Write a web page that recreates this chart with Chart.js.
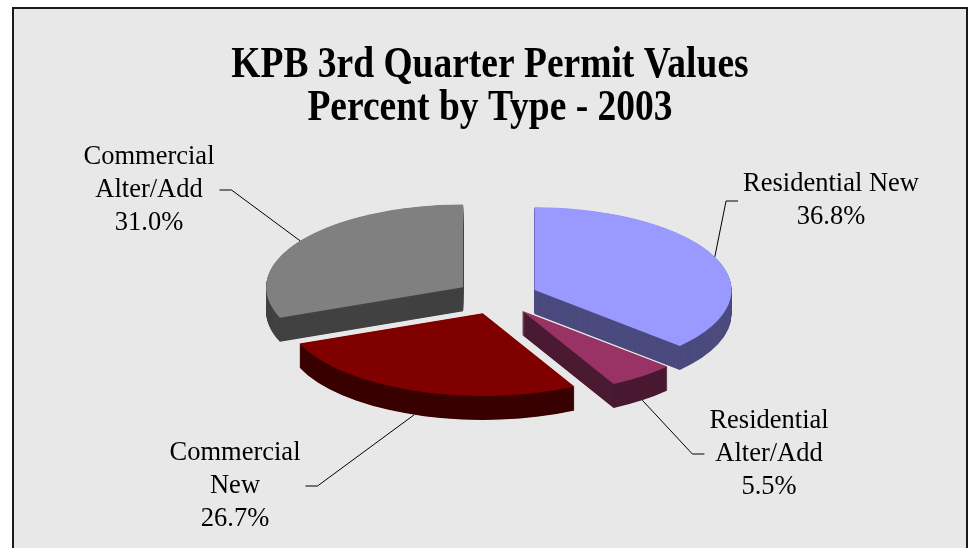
<!DOCTYPE html>
<html><head><meta charset="utf-8">
<script src="https://cdn.jsdelivr.net/npm/chart.js@4.4.1/dist/chart.umd.min.js"></script>
<style>
html,body{margin:0;padding:0;background:#fff;width:968px;height:548px;overflow:hidden;}
#frame{position:absolute;left:12px;top:7px;width:956px;height:600px;box-sizing:border-box;border:2px solid #1a1a1a;background:#e8e8e8;}
#c{position:absolute;left:0;top:0;}
</style></head><body>
<div id="frame"></div>
<canvas id="c" width="968" height="548"></canvas>
<script>
// ---- data ----
const titleLines = ['KPB 3rd Quarter Permit Values', 'Percent by Type - 2003'];
const categories = ['Residential New', 'Residential Alter/Add', 'Commercial New', 'Commercial Alter/Add'];
const categoryLines = [['Residential New'], ['Residential', 'Alter/Add'], ['Commercial', 'New'], ['Commercial', 'Alter/Add']];
const percentValues = [36.8, 5.5, 26.7, 31.0];

// ---- styles / layout ----
const topColors = ['#9999ff', '#993366', '#800000', '#808080'];
const sideColors = ['#4b4b7f', '#4a1a32', '#3a0000', '#424242'];
const labelCenters = [[831, 201], [769, 454], [235, 486], [149, 190]];
const TILT = 0.42, EXPLODE = 41, DEPTH = 24, LINE_H = 33;
const LABEL_FONT = '26.5px "Liberation Serif", "Times New Roman", serif';

function sliceGeom(el) {
  const p = el.getProps(['x', 'y', 'startAngle', 'endAngle', 'outerRadius']);
  const h = (p.startAngle + p.endAngle) / 2;
  return { p, h, ex: Math.cos(h) * EXPLODE, ey: Math.sin(h) * EXPLODE };
}

const pie3d = {
  id: 'pie3d',
  beforeDatasetsDraw(chart) {
    const ctx = chart.ctx;
    const meta = chart.getDatasetMeta(0);
    const items = meta.data.map((el, i) => Object.assign({ el, i }, sliceGeom(el)));
    items.sort((a, b) => a.ey - b.ey);
    for (const it of items) {
      const p = it.p;
      const setT = (t) => {
        ctx.translate(p.x, p.y + t);
        ctx.scale(1, TILT);
        ctx.translate(-p.x + it.ex, -p.y + it.ey);
      };
      for (let t = DEPTH; t >= 0.5; t -= 0.5) {
        ctx.save();
        setT(t);
        ctx.beginPath();
        ctx.moveTo(p.x, p.y);
        ctx.arc(p.x, p.y, p.outerRadius, p.startAngle, p.endAngle);
        ctx.closePath();
        ctx.fillStyle = sideColors[it.i];
        ctx.fill();
        ctx.restore();
      }
      ctx.save();
      setT(0);
      it.el.draw(ctx);
      ctx.restore();
    }
    return false;
  },
  afterDraw(chart) {
    const ctx = chart.ctx;
    // title
    ctx.save();
    ctx.fillStyle = '#000';
    ctx.font = 'bold 37.5px "Liberation Serif", "Times New Roman", serif';
    ctx.textAlign = 'center';
    ctx.textBaseline = 'alphabetic';
    const baselines = [76.5, 120];
    titleLines.forEach((t, j) => {
      ctx.save();
      ctx.translate(490, baselines[j]);
      ctx.scale(1, 1.16);
      ctx.fillText(t, 0, 0);
      ctx.restore();
    });
    ctx.restore();
    // labels
    const meta = chart.getDatasetMeta(0);
    const values = chart.data.datasets[0].data;
    meta.data.forEach((el, i) => {
      const g = sliceGeom(el);
      const p = g.p;
      const front = Math.sin(g.h) > 0;
      const rx = p.x + g.ex + Math.cos(g.h) * p.outerRadius;
      const ry = p.y + TILT * (g.ey + Math.sin(g.h) * p.outerRadius) + (front ? DEPTH : 0);
      const lines = categoryLines[i].concat([values[i].toFixed(1) + '%']);
      const [bx, by] = labelCenters[i];
      ctx.save();
      ctx.font = LABEL_FONT;
      const w = Math.max(...lines.map(l => ctx.measureText(l).width));
      const right = bx > rx;
      const x0 = right ? bx - w / 2 - 5 : bx + w / 2 + 5;
      const xe = right ? x0 - 12 : x0 + 12;
      ctx.strokeStyle = '#000';
      ctx.lineWidth = 1;
      ctx.beginPath();
      ctx.moveTo(rx, ry);
      ctx.lineTo(xe, by);
      ctx.lineTo(x0, by);
      ctx.stroke();
      ctx.fillStyle = '#000';
      ctx.textAlign = 'center';
      ctx.textBaseline = 'middle';
      lines.forEach((l, j) => {
        ctx.fillText(l, bx, by + (j - (lines.length - 1) / 2) * LINE_H);
      });
      ctx.restore();
    });
  }
};

new Chart(document.getElementById('c'), {
  type: 'pie',
  data: {
    labels: categories,
    datasets: [{
      data: percentValues,
      backgroundColor: topColors,
      borderWidth: 0,
      hoverOffset: 0,
      offset: 0
    }]
  },
  options: {
    responsive: false,
    animation: false,
    devicePixelRatio: 1,
    events: [],
    layout: { padding: { left: 300, right: 274, top: 100, bottom: 54 } },
    plugins: { legend: { display: false }, tooltip: { enabled: false }, title: { display: false } }
  },
  plugins: [pie3d]
});
</script>
</body></html>
